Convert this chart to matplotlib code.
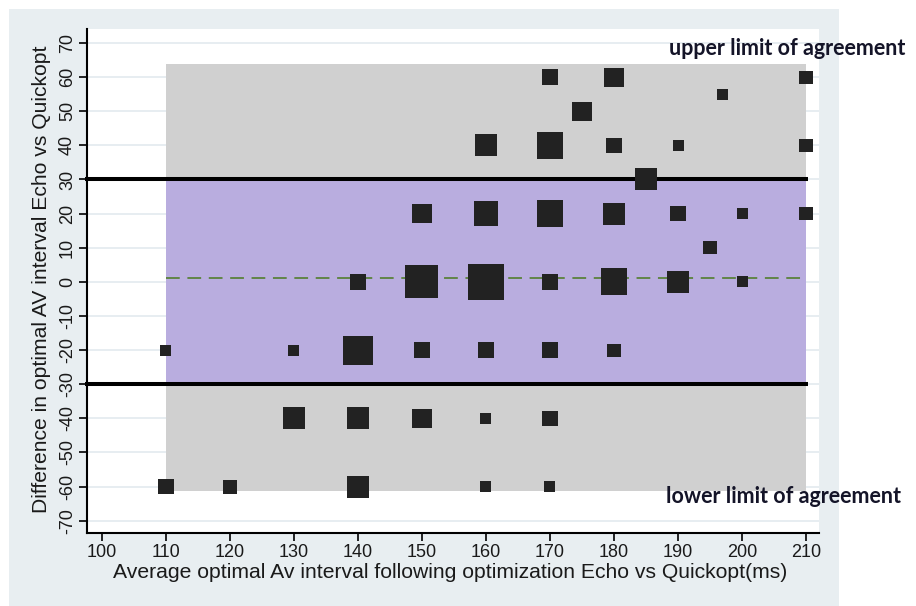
import matplotlib
matplotlib.use("Agg")
import matplotlib.pyplot as plt
from matplotlib.patches import Rectangle

# ---- data ----
avg_ms = [170, 180, 197, 210,
          175,
          160, 170, 180, 190, 210,
          185,
          150, 160, 170, 180, 190, 200, 210,
          195,
          140, 150, 160, 170, 180, 190, 200,
          110, 130, 140, 150, 160, 170, 180,
          130, 140, 150, 160, 170,
          110, 120, 140, 160, 170]
diff_ms = [60, 60, 55, 60,
           50,
           40, 40, 40, 40, 40,
           30,
           20, 20, 20, 20, 20, 20, 20,
           10,
           0, 0, 0, 0, 0, 0, 0,
           -20, -20, -20, -20, -20, -20, -20,
           -40, -40, -40, -40, -40,
           -60, -60, -60, -60, -60]
weight = [2, 3, 1, 1.4,
          3,
          4, 6, 2, 1, 1.4,
          4,
          3, 5, 6, 4, 2, 1, 1.4,
          1.4,
          2, 9, 11, 2, 6, 4, 1,
          1, 1, 7, 2, 2, 2, 1.4,
          4, 4, 3, 1, 2,
          2, 1.6, 4, 1, 1]

mean_diff = 1.2
upper_loa = 63.9
lower_loa = -61.3
threshold_hi = 30
threshold_lo = -30
box_x = [110, 210]

x_ticks = [100, 110, 120, 130, 140, 150, 160, 170, 180, 190, 200, 210]
y_ticks = [-70, -60, -50, -40, -30, -20, -10, 0, 10, 20, 30, 40, 50, 60, 70]

x_label = "Average optimal Av interval following optimization Echo vs Quickopt(ms)"
y_label = "Difference in optimal AV interval Echo vs Quickopt"
upper_text = "upper limit of agreement"
lower_text = "lower limit of agreement"

# ---- figure ----
W, H = 916, 606
fig = plt.figure(figsize=(W / 100, H / 100), dpi=100, facecolor="white")

def fx(px):
    return px / W

def fy(py):
    return 1 - py / H

# outer Stata-like panel
fig.patches.append(Rectangle((fx(9), fy(606)), fx(839) - fx(9), fy(9) - fy(606),
                             transform=fig.transFigure, facecolor="#e8eef1",
                             edgecolor="none", zorder=-5))

ax_l, ax_r, ax_t, ax_b = 87, 819, 29, 533
ax = fig.add_axes([fx(ax_l), fy(ax_b), fx(ax_r) - fx(ax_l), fy(ax_t) - fy(ax_b)])
ax.set_zorder(2)
ax.set_facecolor("white")

ax.set_xlim(97.66, 212.03)
ax.set_ylim(-73.6, 74.1)

# gridlines
ax.set_axisbelow(True)
ax.yaxis.grid(True, color="#e3eaef", linewidth=1.2, zorder=0)
ax.xaxis.grid(False)

# limits of agreement box and acceptable zone
ax.add_patch(Rectangle((box_x[0], lower_loa), box_x[1] - box_x[0], upper_loa - lower_loa,
                       facecolor="#d0d0d0", edgecolor="none", zorder=1))
ax.add_patch(Rectangle((box_x[0], threshold_lo), box_x[1] - box_x[0], threshold_hi - threshold_lo,
                       facecolor="#b9addf", edgecolor="none", zorder=1.5))

# mean line
ax.plot(box_x, [mean_diff, mean_diff], color="#4a7a1e", linewidth=1.1,
        dashes=(9, 5), zorder=2)

# threshold lines
xl = ax.get_xlim()
for yv in (threshold_hi, threshold_lo):
    ax.plot([xl[0] - 0.3, 210.3], [yv, yv], color="black", linewidth=2.9,
            solid_capstyle="butt", zorder=3, clip_on=False)

# weighted square markers
sizes = [((11 * w ** 0.5) * 0.72) ** 2 for w in weight]
ax.scatter(avg_ms, diff_ms, s=sizes, marker="s", color="#222222",
           linewidths=0, zorder=4)

# axes styling
for side in ("top", "right"):
    ax.spines[side].set_visible(False)
for side in ("left", "bottom"):
    ax.spines[side].set_linewidth(1.5)
    ax.spines[side].set_color("black")

ax.set_xticks(x_ticks)
ax.set_yticks(y_ticks)
ax.set_xticklabels([str(v) for v in x_ticks], fontsize=13, family="Liberation Sans")
ax.set_yticklabels([str(v) for v in y_ticks], fontsize=13, family="Liberation Sans",
                   rotation=90, va="center")
ax.tick_params(axis="both", direction="out", length=6, width=1.2, color="black",
               labelcolor="#1a1a1a")
ax.tick_params(axis="x", pad=2)
ax.tick_params(axis="y", pad=2)

fig.text(fx(450), fy(572), x_label, ha="center", va="center", fontsize=15.2,
         family="Liberation Sans", color="#1a1a1a", zorder=3)
fig.text(fx(42), fy(279), y_label, ha="center", va="center", fontsize=15.2,
         family="Liberation Sans", color="#1a1a1a", rotation=90, zorder=3)

fig.text(fx(669), fy(55), upper_text, ha="left", va="baseline", fontsize=15.5,
         family="Lato", fontweight="bold", color="#141428", zorder=3)
fig.text(fx(666), fy(503), lower_text, ha="left", va="baseline", fontsize=15.5,
         family="Lato", fontweight="bold", color="#141428", zorder=3)

fig.savefig("out.png", dpi=100, facecolor="white")
